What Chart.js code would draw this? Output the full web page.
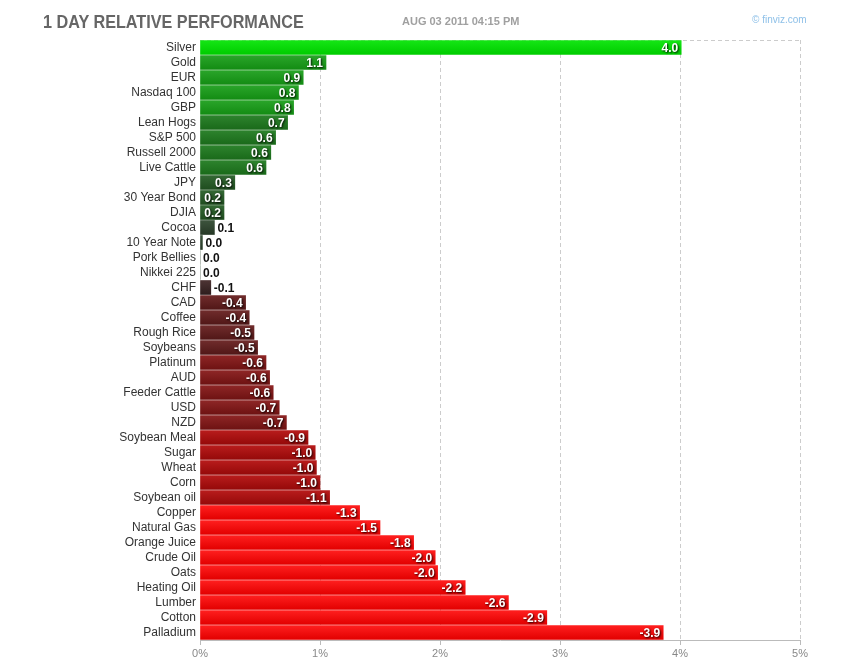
<!DOCTYPE html>
<html>
<head>
<meta charset="utf-8">
<script src="https://cdn.jsdelivr.net/npm/chart.js@4/dist/chart.umd.min.js"></script>
<style>
    body { margin: 0; background: #fff; }
    #wrap { position: relative; width: 850px; height: 670px; }
    #title { position: absolute; left: 43px; top: 12px; font: bold 18px "Liberation Sans", Arial, sans-serif; color: #666; transform: scaleX(0.9); transform-origin: left top; white-space: nowrap; }
    #fecha { position: absolute; left: 402px; top: 15px; font: bold 11px "Liberation Sans", Arial, sans-serif; color: #a0a0a0; }
    #fuente { position: absolute; left: 752px; top: 14px; font: 10px "Liberation Sans", Arial, sans-serif; color: #8ec0e8; }
</style>
</head>
<body>
<div id="wrap">
    <div id="title">1 DAY RELATIVE PERFORMANCE</div>
    <div id="fecha">AUG 03 2011 04:15 PM</div>
    <div id="fuente">© finviz.com</div>
    <canvas id="grafico" width="850" height="670"></canvas>
</div>
<script>
const nombres = ['Silver', 'Gold', 'EUR', 'Nasdaq 100', 'GBP', 'Lean Hogs', 'S&P 500', 'Russell 2000', 'Live Cattle',
    'JPY', '30 Year Bond', 'DJIA', 'Cocoa', '10 Year Note', 'Pork Bellies', 'Nikkei 225', 'CHF', 'CAD', 'Coffee',
    'Rough Rice', 'Soybeans', 'Platinum', 'AUD', 'Feeder Cattle', 'USD', 'NZD', 'Soybean Meal', 'Sugar', 'Wheat',
    'Corn', 'Soybean oil', 'Copper', 'Natural Gas', 'Orange Juice', 'Crude Oil', 'Oats', 'Heating Oil', 'Lumber',
    'Cotton', 'Palladium'];
const cambios = [4.01, 1.05, 0.86, 0.82, 0.78, 0.73, 0.63, 0.59, 0.55,
    0.29, 0.20, 0.20, 0.12, 0.02, 0.0, 0.0, -0.09, -0.38, -0.41,
    -0.45, -0.48, -0.55, -0.58, -0.61, -0.66, -0.72, -0.90, -0.96, -0.97,
    -1.0, -1.08, -1.33, -1.50, -1.78, -1.96, -1.98, -2.21, -2.57,
    -2.89, -3.86];
const ticksX = [0, 1, 2, 3, 4, 5];

// colores por nivel: [arriba, abajo]
const verdes = [['#3d543d', '#263826'], ['#346834', '#1f4d1f'], ['#2d832d', '#1a6a1a'], ['#2aa52a', '#138c13'], ['#14e614', '#00cc00']];
const rojos = [['#4d3434', '#2e1d1d'], ['#702c2c', '#511717'], ['#8e2626', '#6e1212'], ['#b81c1c', '#950909'], ['#ff1f1f', '#e20000']];

function nivel(v) {
    const a = Math.abs(v);
    if (a < 0.15) return 0;
    if (a < 0.5) return 1;
    if (a < 0.75) return 2;
    if (a < 1.25) return 3;
    return 4;
}

function colorBarra(ctx) {
    const v = cambios[ctx.dataIndex];
    const par = (v >= 0 ? verdes : rojos)[nivel(v)];
    const chart = ctx.chart;
    if (!chart.chartArea || !chart.scales.y) return par[1];
    const y = chart.scales.y.getPixelForValue(ctx.dataIndex);
    const g = chart.ctx.createLinearGradient(0, y - 7, 0, y + 7);
    g.addColorStop(0, par[0]);
    g.addColorStop(1, par[1]);
    return g;
}

const bordeSuperior = {
    id: 'bordeSuperior',
    beforeDatasetsDraw(chart) {
        const { ctx, chartArea } = chart;
        ctx.save();
        ctx.strokeStyle = '#cccccc';
        ctx.lineWidth = 1;
        ctx.setLineDash([4, 3]);
        ctx.beginPath();
        ctx.moveTo(chartArea.left, chartArea.top + 0.5);
        ctx.lineTo(chartArea.right, chartArea.top + 0.5);
        ctx.stroke();
        ctx.restore();
    }
};

const etiquetas = {
    id: 'etiquetas',
    afterDatasetsDraw(chart) {
        const ctx = chart.ctx;
        const meta = chart.getDatasetMeta(0);
        ctx.save();
        ctx.font = 'bold 12px "Liberation Sans", Arial, sans-serif';
        ctx.textBaseline = 'middle';
        meta.data.forEach((bar, i) => {
            const txt = cambios[i].toFixed(1);
            const w = ctx.measureText(txt).width;
            const ancho = bar.x - bar.base;
            if (ancho > w + 4) {
                ctx.textAlign = 'right';
                ctx.shadowColor = 'rgba(0,0,0,0.9)';
                ctx.shadowBlur = 2;
                ctx.shadowOffsetX = 1;
                ctx.shadowOffsetY = 1;
                ctx.fillStyle = '#ffffff';
                ctx.fillText(txt, bar.x - 3, bar.y + 1);
            } else {
                ctx.textAlign = 'left';
                ctx.shadowColor = 'transparent';
                ctx.fillStyle = '#111111';
                ctx.fillText(txt, bar.x + 3, bar.y + 1);
            }
        });
        ctx.restore();
    }
};

new Chart(document.getElementById('grafico'), {
    type: 'bar',
    data: {
        labels: nombres,
        datasets: [{
            data: cambios.map(v => Math.abs(v)),
            backgroundColor: colorBarra,
            barThickness: 14,
            borderWidth: 0
        }]
    },
    options: {
        indexAxis: 'y',
        responsive: false,
        animation: false,
        layout: { padding: { top: 40, right: 50, bottom: 0, left: 0 } },
        plugins: { legend: { display: false }, tooltip: { enabled: false } },
        scales: {
            x: {
                min: 0,
                max: 5,
                afterBuildTicks: s => { s.ticks = ticksX.map(v => ({ value: v })); },
                afterFit: s => { s.height = 30; },
                ticks: {
                    callback: v => v + '%',
                    color: '#888',
                    font: { size: 11, family: '"Liberation Sans", Arial, sans-serif' },
                    padding: 2
                },
                grid: {
                    color: c => c.index === 0 ? 'rgba(0,0,0,0)' : '#cccccc',
                    tickColor: '#bbbbbb',
                    tickLength: 5,
                    tickBorderDash: [],
                    tickBorderDashOffset: 0
                },
                border: { color: '#bbbbbb', dash: [4, 3] }
            },
            y: {
                afterFit: s => { s.width = 200; },
                grid: { display: false, drawTicks: false },
                border: { display: false },
                ticks: {
                    color: '#333',
                    font: { size: 12, family: '"Liberation Sans", Arial, sans-serif' },
                    padding: 4,
                    autoSkip: false
                }
            }
        }
    },
    plugins: [bordeSuperior, etiquetas]
});
</script>
</body>
</html>
